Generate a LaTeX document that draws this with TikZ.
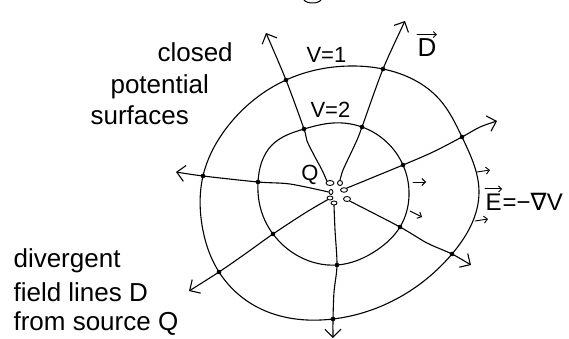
\documentclass[tikz,border=0pt]{standalone}
\usepackage{fontspec}
\setmainfont{Liberation Sans}
\newfontfamily\symfont{DejaVu Sans}
\usetikzlibrary{arrows.meta,shapes.geometric,hobby}
\begin{document}
\begin{tikzpicture}[x=1pt,y=-1pt,line width=1.1pt,line cap=round,line join=round,
  fl/.style={line width=1.1pt,-{Straight Barb[length=8pt,width=16pt,line width=1.1pt]}},
  eqs/.style={line width=1.1pt,use Hobby shortcut,closed=true},
  isect/.style={circle,fill,inner sep=0pt,minimum size=4.6pt},
  chg/.style={ellipse,draw,inner sep=0pt,line width=0.9pt},
  earrow/.style={line width=0.9pt,-{Straight Barb[length=3.5pt,width=7pt,line width=0.9pt]}},
  vecarrow/.style={line width=0.9pt,-{Straight Barb[length=3pt,width=6pt,line width=0.9pt]}},
  lab/.style={font=\fontsize{26}{30}\selectfont,inner sep=0pt,anchor=base west},
  vlab/.style={font=\fontsize{22}{26}\selectfont,inner sep=0pt,anchor=base west}]
\useasboundingbox (0,0) rectangle (569,339);

% cropped remnant of a letter at top
\draw[line width=1pt] (304,0) .. controls (307,4) and (318,4) .. (321,0);

% charges
\node[chg,minimum width=8pt,minimum height=5pt] (c1) at (330,183) {};
\node[chg,minimum width=5pt,minimum height=5pt] (c2) at (340,183) {};
\node[chg,minimum width=4pt,minimum height=5pt] (c3) at (331,192) {};
\node[chg,minimum width=7pt,minimum height=4.5pt] (c4) at (344,190) {};
\node[chg,minimum width=6pt,minimum height=4pt] (c5) at (330,198) {};
\node[chg,minimum width=6pt,minimum height=4pt] (c6) at (334,203) {};
\node[chg,minimum width=7pt,minimum height=5pt] (c7) at (347,199) {};
\node[font=\fontsize{22}{26}\selectfont,inner sep=0pt] (qlab) at (310,175) {Q};

% intersections inner
\node[isect] (i1) at (304,129) {};
\node[isect] (i2) at (362,127) {};
\node[isect] (i3) at (403,165) {};
\node[isect] (i4) at (400,227) {};
\node[isect] (i5) at (337,265) {};
\node[isect] (i6) at (273,234) {};
\node[isect] (i7) at (258,182) {};
% intersections outer
\node[isect] (o1) at (286,80) {};
\node[isect] (o2) at (383,69) {};
\node[isect] (o3) at (462,137) {};
\node[isect] (o4) at (452,254) {};
\node[isect] (o5) at (333,319) {};
\node[isect] (o6) at (219,272) {};
\node[isect] (o7) at (203,176) {};

% arrow tips
\coordinate (t1) at (266,33);
\coordinate (t2) at (405,21);
\coordinate (t3) at (497,121);
\coordinate (t4) at (471,265);
\coordinate (t5) at (333,338);
\coordinate (t6) at (189,291);
\coordinate (t7) at (176,172);

% equipotential surfaces
\draw[eqs] (i1.center) .. (333,123) .. (i2.center) .. (i3.center) .. (409,196) .. (i4.center) .. (377,250) .. (i5.center) .. (300,257) .. (i6.center) .. (261,210) .. (i7.center) .. (272,145);
\draw[eqs] (o1.center) .. (350,66) .. (o2.center) .. (440,100) .. (o3.center) .. (479,192) .. (o4.center) .. (400,297) .. (o5.center) .. (257,307) .. (o6.center) .. (202,225) .. (o7.center) .. (228,126);

% field lines
\draw[fl] plot[smooth,tension=0.5] coordinates {(c1.north west) (322,170) (315,157) (307,141) (i1) (o1) (t1)};
\draw[fl] plot[smooth,tension=0.5] coordinates {(c2.north) (343,170) (350,155) (357,140) (i2) (o2) (t2)};
\draw[fl] plot[smooth,tension=0.5] coordinates {(c4.north east) (i3) (433,152) (o3) (480,127) (t3)};
\draw[fl] plot[smooth,tension=0.5] coordinates {(c7.south east) (i4) (427,243) (o4) (t4)};
\draw[fl] plot[smooth,tension=0.5] coordinates {(c6.south) (335,230) (i5) (334,292) (o5) (t5)};
\draw[fl] plot[smooth,tension=0.5] coordinates {(c5.south west) (305,213) (i6) (245,254) (o6) (t6)};
\draw[fl] plot[smooth,tension=0.5] coordinates {(c3.west) (290,184) (i7) (o7) (t7)};

% small E arrows
\coordinate (e1s) at (413,182); \coordinate (e1e) at (426,182);
\coordinate (e2s) at (410,211); \coordinate (e2e) at (422,217);
\coordinate (e3s) at (477,172); \coordinate (e3e) at (490,170);
\coordinate (e4s) at (475,221); \coordinate (e4e) at (488,219);
\draw[earrow] (e1s) -- (e1e);
\draw[earrow] (e2s) -- (e2e);
\draw[earrow] (e3s) -- (e3e);
\draw[earrow] (e4s) -- (e4e);

% labels
\node[lab] (closed) at (157,62) {closed};
\node[lab] (potential) at (110,94) {potential};
\node[lab] (surfaces) at (90,125) {surfaces};
\node[vlab] (v1) at (306,63) {V=1};
\node[vlab] (v2) at (310,118) {V=2};
\node[lab] (dlab) at (417,57) {D};
\draw[vecarrow] ([yshift=4pt]dlab.north west) -- ([yshift=4pt]dlab.north east);
\node[font=\fontsize{24}{28}\selectfont,inner sep=0pt,anchor=base west] (eE) at (485,210) {E};
\node[font=\fontsize{24}{28}\selectfont,inner sep=0pt,anchor=base west] (erest) at (eE.base east) {=−{\symfont ∇}V};
\draw[vecarrow] ([yshift=4pt]eE.north west) -- ([yshift=4pt]eE.north east);
\node[lab] (div1) at (13,267) {divergent};
\node[lab] (div2) at (13,301) {field lines D};
\node[lab] (div3) at (13,330) {from source Q};
\end{tikzpicture}
\end{document}
